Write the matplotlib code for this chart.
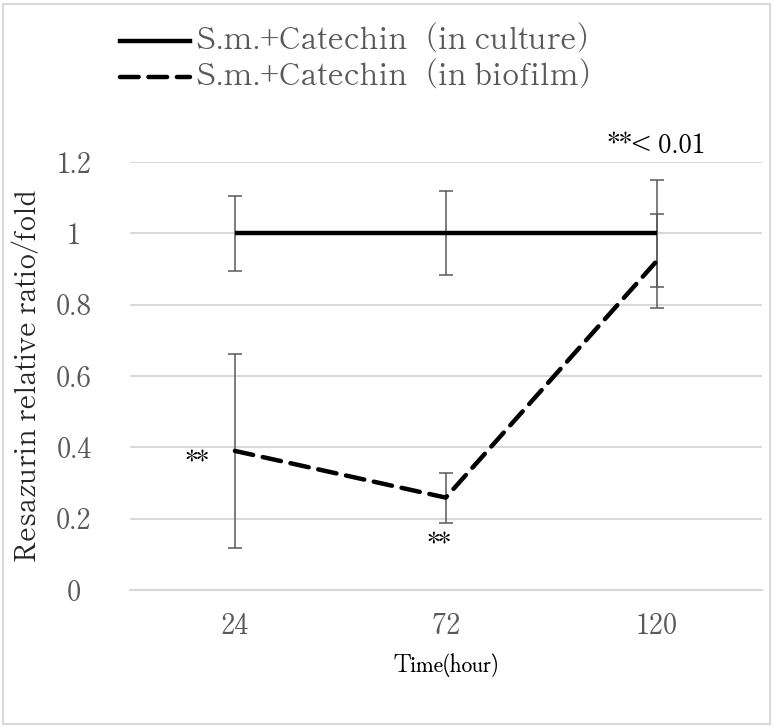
import matplotlib
matplotlib.use("Agg")
import matplotlib.pyplot as plt
from matplotlib.patches import Rectangle

# Data
times = ["24", "72", "120"]
culture_mean = [1.0, 1.0, 1.0]
culture_err = [0.105, 0.118, 0.15]
biofilm_mean = [0.39, 0.259, 0.922]
biofilm_err = [0.272, 0.07, 0.131]
yticks = [0, 0.2, 0.4, 0.6, 0.8, 1.0, 1.2]
ytick_labels = ["0", "0.2", "0.4", "0.6", "0.8", "1", "1.2"]
legend_labels = ["S.m.+Catechin\uff08in culture\uff09", "S.m.+Catechin\uff08in biofilm\uff09"]

MINCHO = "Shippori Mincho"
NARROW = "Hina Mincho"
plt.rcParams["font.family"] = MINCHO

W, H = 772, 726
fig = plt.figure(figsize=(W / 100, H / 100), dpi=100)

# Axes placement in pixels
left, right, top, bottom = 129.5, 762.0, 162.0, 590.0
ax = fig.add_axes([left / W, 1 - bottom / H, (right - left) / W, (bottom - top) / H])

x = list(range(len(times)))
grid_c = "#d9d9d9"
err_c = "#595959"

for s, e in zip([culture_mean, biofilm_mean], [culture_err, biofilm_err]):
    ax.errorbar(x, s, yerr=e, fmt="none", ecolor=err_c, elinewidth=1.1,
                capsize=4.7, capthick=1.1, zorder=2)

ax.plot(x, culture_mean, color="black", lw=3.2, solid_capstyle="butt", zorder=3)
ax.plot(x, biofilm_mean, color="black", lw=3.2, dashes=(4.2, 2.2),
        dash_capstyle="round", zorder=3)

ax.set_xlim(-0.5, len(times) - 0.5)
ax.set_ylim(0, 1.2)
ax.set_yticks(yticks)
ax.set_yticklabels(ytick_labels, family=MINCHO)
ax.set_xticks(x)
ax.set_xticklabels(times, family=MINCHO)
ax.tick_params(length=0, labelsize=20, labelcolor="#595959")
ax.tick_params(axis="y", pad=40)
ax.tick_params(axis="x", pad=16)
for lbl in ax.get_yticklabels():
    lbl.set_horizontalalignment("center")

for sp in ["top", "right", "left"]:
    ax.spines[sp].set_visible(False)
ax.spines["bottom"].set_color(grid_c)
ax.spines["bottom"].set_linewidth(1.5)
ax.yaxis.grid(True, color=grid_c, lw=1.5)
ax.set_axisbelow(True)

ax.set_xlabel("Time(hour)", fontsize=18, family=NARROW, labelpad=9)
ax.set_ylabel("Resazurin relative ratio/fold", fontsize=20, family=MINCHO,
              color="#262626")
ax.yaxis.set_label_coords(-86 / (right - left), 0.5)

# Significance marks
ax.annotate("**", (0, biofilm_mean[0]), xytext=(-27, -10), textcoords="offset points",
            ha="center", va="center", fontsize=19, family=MINCHO)
ax.annotate("**", (1, biofilm_mean[1] - biofilm_err[1]), xytext=(-5, -17),
            textcoords="offset points", ha="center", va="center", fontsize=19, family=MINCHO)
ax.text(2, 1.245, "**< 0.01", ha="center", va="center", fontsize=19, family=MINCHO,
        clip_on=False)

# Legend drawn manually at the top
fig.lines.append(plt.Line2D([120 / W, 190 / W], [1 - 41 / H, 1 - 41 / H],
                            color="black", lw=3.2, transform=fig.transFigure))
fig.lines.append(plt.Line2D([120 / W, 190 / W], [1 - 77 / H, 1 - 77 / H],
                            color="black", lw=3.2, dashes=(4.2, 2.2),
                            dash_capstyle="round", transform=fig.transFigure))
fig.text(196 / W, 1 - 41 / H, legend_labels[0], fontsize=22, family=MINCHO,
         color="#595959", va="center")
fig.text(196 / W, 1 - 77 / H, legend_labels[1], fontsize=22, family=MINCHO,
         color="#595959", va="center")

# Chart border
fig.patches.append(Rectangle((3 / W, 2 / H), 767 / W, 720 / H, transform=fig.transFigure,
                             fill=False, edgecolor="#d9d9d9", lw=1.5))

fig.savefig("out.png", dpi=100, facecolor="white")
